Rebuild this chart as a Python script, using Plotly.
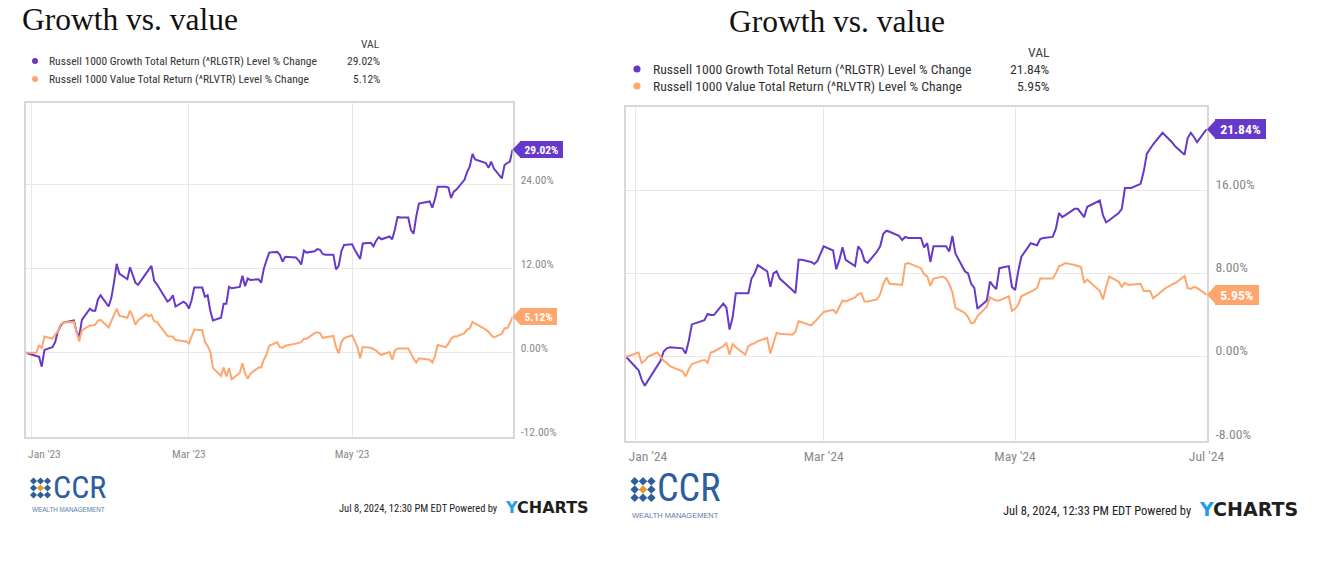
import plotly.graph_objects as go

# ---------------- data ----------------
dates_2023 = [
    "2022-12-30",
    "2023-01-03", "2023-01-04", "2023-01-05", "2023-01-06", "2023-01-09", "2023-01-10", "2023-01-11",
    "2023-01-12", "2023-01-13", "2023-01-17", "2023-01-18", "2023-01-19", "2023-01-20", "2023-01-23",
    "2023-01-24", "2023-01-25", "2023-01-26", "2023-01-27", "2023-01-30", "2023-01-31",
    "2023-02-01", "2023-02-02", "2023-02-03", "2023-02-06", "2023-02-07", "2023-02-08", "2023-02-09",
    "2023-02-10", "2023-02-13", "2023-02-14", "2023-02-15", "2023-02-16", "2023-02-17", "2023-02-21",
    "2023-02-22", "2023-02-23", "2023-02-24", "2023-02-27", "2023-02-28",
    "2023-03-01", "2023-03-02", "2023-03-03", "2023-03-06", "2023-03-07", "2023-03-08", "2023-03-09",
    "2023-03-10", "2023-03-13", "2023-03-14", "2023-03-15", "2023-03-16", "2023-03-17", "2023-03-20",
    "2023-03-21", "2023-03-22", "2023-03-23", "2023-03-24", "2023-03-27", "2023-03-28", "2023-03-29",
    "2023-03-30", "2023-03-31",
    "2023-04-03", "2023-04-04", "2023-04-05", "2023-04-06", "2023-04-10", "2023-04-11", "2023-04-12",
    "2023-04-13", "2023-04-14", "2023-04-17", "2023-04-18", "2023-04-19", "2023-04-20", "2023-04-21",
    "2023-04-24", "2023-04-25", "2023-04-26", "2023-04-27", "2023-04-28",
    "2023-05-01", "2023-05-02", "2023-05-03", "2023-05-04", "2023-05-05", "2023-05-08", "2023-05-09",
    "2023-05-10", "2023-05-11", "2023-05-12", "2023-05-15", "2023-05-16", "2023-05-17", "2023-05-18",
    "2023-05-19", "2023-05-22", "2023-05-23", "2023-05-24", "2023-05-25", "2023-05-26", "2023-05-30",
    "2023-05-31",
    "2023-06-01", "2023-06-02", "2023-06-05", "2023-06-06", "2023-06-07", "2023-06-08", "2023-06-09",
    "2023-06-12", "2023-06-13", "2023-06-14", "2023-06-15", "2023-06-16", "2023-06-20", "2023-06-21",
    "2023-06-22", "2023-06-23", "2023-06-26", "2023-06-27", "2023-06-28", "2023-06-29", "2023-06-30",
]
growth_2023 = [
    0.0,
    -0.5, -0.6, -2.0, 0.4, 0.8, 1.5, 3.0, 3.8, 4.3, 4.6, 3.0, 2.3, 4.7, 6.3, 6.0, 6.0, 7.6, 8.2, 6.6, 7.8,
    10.0, 12.7, 11.3, 10.5, 12.2, 11.0, 10.0, 9.7, 11.3, 11.8, 12.4, 10.3, 9.8, 7.3, 7.6, 8.2, 6.6, 7.3, 7.0,
    6.3, 7.5, 9.3, 9.3, 8.0, 8.2, 6.0, 4.6, 5.0, 7.0, 7.0, 9.4, 9.2, 9.4, 11.0, 9.5, 10.6, 10.4, 10.5, 10.0,
    12.0, 13.0, 14.3,
    14.4, 14.0, 13.0, 13.7, 13.6, 13.2, 12.6, 14.6, 14.3, 14.5, 14.8, 14.7, 14.1, 14.0, 14.0, 11.9, 12.4,
    14.5, 15.4,
    15.5, 14.7, 14.0, 13.4, 15.6, 15.7, 15.2, 16.0, 16.5, 16.2, 16.6, 16.2, 17.6, 19.4, 19.3, 19.3, 17.5,
    17.0, 19.5, 21.3, 21.6, 20.7,
    22.0, 23.7, 23.7, 23.6, 22.1, 23.0, 23.3, 24.7, 25.8, 26.6, 28.4, 27.6, 27.1, 26.4, 27.3, 26.3, 24.9,
    26.8, 27.1, 27.3, 29.02,
]
value_2023 = [
    0.0,
    0.0, 1.1, 0.6, 2.3, 2.0, 2.6, 3.0, 4.0, 4.3, 4.4, 3.0, 1.6, 3.2, 3.9, 3.9, 4.0, 4.6, 4.7, 3.6, 4.6,
    5.5, 6.3, 5.3, 5.0, 6.0, 5.2, 4.0, 4.6, 5.5, 5.2, 5.4, 4.5, 4.4, 2.4, 2.3, 2.3, 1.8, 1.7, 1.6,
    1.3, 2.3, 3.3, 3.2, 1.5, 1.0, 0.1, -2.2, -3.3, -2.1, -3.4, -2.2, -3.8, -2.9, -1.5, -3.0, -3.7, -3.0,
    -2.1, -2.1, -1.0, -0.3, 1.0,
    1.5, 0.8, 0.7, 1.0, 1.3, 1.4, 1.5, 2.0, 2.0, 2.8, 2.9, 2.8, 2.1, 2.2, 2.4, 0.8, -0.1, 1.5, 2.1,
    2.5, 1.6, 0.8, -0.8, 0.8, 0.7, 0.5, 0.3, -0.1, -0.3, 0.1, -1.0, 0.3, 0.6, 0.6, 0.6, -0.1, -0.9,
    -1.4, -0.8, -1.0, -1.4,
    -0.5, 1.1, 0.8, 1.3, 2.0, 2.3, 2.3, 2.8, 3.3, 3.5, 4.4, 4.2, 3.3, 3.0, 2.5, 2.2, 2.7, 3.5, 3.5,
    4.2, 5.12,
]

dates_2024 = [
    "2023-12-29",
    "2024-01-02", "2024-01-03", "2024-01-04", "2024-01-05", "2024-01-08", "2024-01-09", "2024-01-10",
    "2024-01-11", "2024-01-12", "2024-01-16", "2024-01-17", "2024-01-18", "2024-01-19", "2024-01-22",
    "2024-01-23", "2024-01-24", "2024-01-25", "2024-01-26", "2024-01-29", "2024-01-30", "2024-01-31",
    "2024-02-01", "2024-02-02", "2024-02-05", "2024-02-06", "2024-02-07", "2024-02-08", "2024-02-09",
    "2024-02-12", "2024-02-13", "2024-02-14", "2024-02-15", "2024-02-16", "2024-02-20", "2024-02-21",
    "2024-02-22", "2024-02-23", "2024-02-26", "2024-02-27", "2024-02-28", "2024-02-29",
    "2024-03-01", "2024-03-04", "2024-03-05", "2024-03-06", "2024-03-07", "2024-03-08", "2024-03-11",
    "2024-03-12", "2024-03-13", "2024-03-14", "2024-03-15", "2024-03-18", "2024-03-19", "2024-03-20",
    "2024-03-21", "2024-03-22", "2024-03-25", "2024-03-26", "2024-03-27", "2024-03-28",
    "2024-04-01", "2024-04-02", "2024-04-03", "2024-04-04", "2024-04-05", "2024-04-08", "2024-04-09",
    "2024-04-10", "2024-04-11", "2024-04-12", "2024-04-15", "2024-04-16", "2024-04-17", "2024-04-18",
    "2024-04-19", "2024-04-22", "2024-04-23", "2024-04-24", "2024-04-25", "2024-04-26", "2024-04-29",
    "2024-04-30",
    "2024-05-01", "2024-05-02", "2024-05-03", "2024-05-06", "2024-05-07", "2024-05-08", "2024-05-09",
    "2024-05-10", "2024-05-13", "2024-05-14", "2024-05-15", "2024-05-16", "2024-05-17", "2024-05-20",
    "2024-05-21", "2024-05-22", "2024-05-23", "2024-05-24", "2024-05-28", "2024-05-29", "2024-05-30",
    "2024-05-31",
    "2024-06-03", "2024-06-04", "2024-06-05", "2024-06-06", "2024-06-07", "2024-06-10", "2024-06-11",
    "2024-06-12", "2024-06-13", "2024-06-14", "2024-06-17", "2024-06-18", "2024-06-20", "2024-06-21",
    "2024-06-24", "2024-06-25", "2024-06-26", "2024-06-27", "2024-06-28",
    "2024-07-01",
]
growth_2024 = [
    0.0,
    -1.3, -2.2, -2.8, -2.3, -0.8, -0.4, 0.5, 0.8, 0.9, 0.8, 0.3, 1.5, 3.1, 3.4, 3.5, 4.1, 4.0, 4.0, 5.1,
    4.7, 2.6,
    3.8, 6.1, 6.1, 6.1, 7.5, 8.0, 8.8, 8.2, 6.7, 8.0, 8.2, 7.5, 6.4, 6.1, 9.3, 9.3, 9.1, 8.9, 9.2, 9.9,
    10.6, 10.2, 8.4, 9.3, 10.5, 9.3, 8.7, 10.6, 10.2, 9.2, 9.0, 10.1, 10.6, 11.8, 12.1, 12.0, 11.6, 11.2,
    11.5, 11.4,
    11.4, 10.5, 10.9, 9.1, 10.6, 10.6, 10.6, 10.1, 11.6, 9.9, 8.2, 8.0, 7.0, 6.6, 4.6, 5.4, 7.2, 6.8,
    6.5, 8.5, 8.7, 6.7,
    6.4, 8.2, 9.6, 10.9, 10.8, 10.7, 11.3, 11.4, 11.5, 12.3, 13.8, 13.4, 13.6, 14.2, 14.2, 13.8, 13.4,
    14.4, 15.0, 13.6, 12.9, 13.1,
    13.8, 14.2, 16.2, 16.2, 16.2, 16.6, 17.8, 19.5, 20.0, 20.4, 21.5, 21.2, 20.6, 20.2, 19.4, 21.0,
    21.5, 21.1, 20.6,
    21.84,
]
value_2024 = [
    0.0,
    0.4, -0.6, -0.4, 0.0, 0.4, 0.0, -0.4, -0.6, -0.9, -1.4, -1.9, -1.2, -0.7, -0.4, -0.3, -0.6, 0.4,
    0.5, 1.0, 1.3, 0.2,
    1.2, 0.9, 0.2, 1.0, 1.2, 1.3, 1.5, 1.8, 0.3, 1.4, 2.3, 2.2, 2.1, 2.4, 3.4, 3.3, 3.0, 3.3, 3.6, 4.0,
    4.3, 4.5, 4.2, 4.8, 5.4, 5.3, 5.7, 6.0, 6.1, 5.3, 5.3, 5.5, 6.0, 7.0, 7.6, 7.0, 6.9, 6.9, 8.9, 9.0,
    8.5, 7.9, 7.7, 6.8, 7.5, 7.7, 7.5, 7.0, 6.2, 4.7, 4.2, 3.8, 3.2, 3.3, 3.9, 4.8, 5.7, 5.5, 5.4, 5.4,
    5.8, 4.4,
    4.6, 5.0, 5.8, 6.2, 6.4, 6.6, 7.5, 7.5, 7.5, 8.0, 8.7, 8.8, 9.0, 8.8, 8.7, 8.6, 7.1, 7.4, 6.3, 5.5,
    6.7, 7.7,
    7.2, 6.7, 7.1, 6.9, 6.9, 7.0, 6.3, 6.3, 6.3, 5.6, 6.4, 6.6, 6.95, 7.05, 7.75, 6.6, 6.5, 6.7, 6.6,
    5.95,
]

series_names = [
    "Russell 1000 Growth Total Return (^RLGTR) Level % Change",
    "Russell 1000 Value Total Return (^RLVTR) Level % Change",
]
title_text = "Growth vs. value"
xgrid_2023 = ["2023-01-01", "2023-03-01", "2023-05-01"]
xticks_2023 = ["2023-01-06", "2023-03-01", "2023-05-01"]
xlabels_2023 = ["Jan '23", "Mar '23", "May '23"]
xgrid_2024 = ["2024-01-01", "2024-03-01", "2024-05-01", "2024-07-01"]
xticks_2024 = ["2024-01-05", "2024-03-01", "2024-05-01", "2024-07-01"]
xlabels_2024 = ["Jan '24", "Mar '24", "May '24", "Jul '24"]
yticks_2023 = [-12, 0, 12, 24]
yticks_2024 = [-8, 0, 8, 16]
stamp_2023 = "Jul 8, 2024, 12:30 PM EDT Powered by"
stamp_2024 = "Jul 8, 2024, 12:33 PM EDT Powered by"

assert len(dates_2023) == len(growth_2023) == len(value_2023)
assert len(dates_2024) == len(growth_2024) == len(value_2024)

# ---------------- style ----------------
W, H = 1344, 563
PURPLE = "#6739cb"
ORANGE = "#ffa66e"
GRID = "#e8e8e8"
BORDER = "#d8d8d8"
TICK = "#8a8a8a"
NARROW = "Liberation Sans Narrow, Arial Narrow, Roboto Condensed, Roboto, sans-serif"
SERIF = "Liberation Serif, DejaVu Serif, serif"
BLUE = "#2d5f9c"


def fx(p):
    return p / W


def fy(p):
    return 1 - p / H


panels = [
    dict(dates=dates_2023, g=growth_2023, v=value_2023, xd=(25.7, 512.6), yd=(102.7, 437.0),
         xr=["2022-12-30", "2023-06-30"], yr=[-12.04, 35.71], yt=yticks_2023,
         xg=xgrid_2023, xt=xticks_2023, xl=xlabels_2023, s=1.0, xstand=5, yshift=-5,
         title=(20, 20), leg_x=(35, 47, 382), leg_y=(44, 61, 79),
         logo=(40.5, 488), stamp=(500, 508), stamp_text=stamp_2023),
    dict(dates=dates_2024, g=growth_2024, v=value_2024, xd=(626.0, 1206.9), yd=(107.0, 440.7),
         xr=["2023-12-29", "2024-07-01 03:00"], yr=[-8.07, 23.98], yt=yticks_2024,
         xg=xgrid_2024, xt=xticks_2024, xl=xlabels_2024, s=1.19, xstand=2, yshift=-6,
         title=(727, 21), leg_x=(637, 651, 1052), leg_y=(52, 69, 86),
         logo=(643, 489.5), stamp=(1193, 510), stamp_text=stamp_2024),
]

fig = go.Figure()
shapes = []
annotations = []
layout = {}

for i, p in enumerate(panels):
    s = p["s"]
    sfx = "" if i == 0 else str(i + 1)
    xref, yref = "x" + sfx, "y" + sfx
    for vals, col in ((p["g"], PURPLE), (p["v"], ORANGE)):
        fig.add_trace(go.Scatter(x=p["dates"], y=vals, mode="lines", xaxis=xref, yaxis=yref,
                                 line=dict(color=col, width=2), showlegend=False, hoverinfo="skip"))
    layout["xaxis" + sfx] = dict(
        domain=[fx(p["xd"][0]), fx(p["xd"][1])], range=p["xr"], type="date", anchor=yref,
        tickvals=p["xt"], ticktext=p["xl"], showgrid=False,
        minor=dict(tickvals=p["xg"], showgrid=True, gridcolor=GRID, gridwidth=1, ticks=""),
        showline=True, linecolor=BORDER, linewidth=1.5, mirror=True, ticks="", zeroline=False,
        tickfont=dict(family=NARROW, size=11.5 * s, color=TICK), ticklabelstandoff=p["xstand"],
        fixedrange=True, automargin=False)
    layout["yaxis" + sfx] = dict(
        domain=[fy(p["yd"][1]), fy(p["yd"][0])], range=p["yr"], anchor=xref, side="right",
        tickvals=p["yt"], ticktext=[f"{t:.2f}%" for t in p["yt"]], showgrid=True, gridcolor=GRID,
        showline=True, linecolor=BORDER, linewidth=1.5, mirror=True, ticks="", zeroline=False,
        tickfont=dict(family=NARROW, size=11.5 * s, color=TICK), ticklabelstandoff=int(4 * s),
        ticklabelshift=p["yshift"], fixedrange=True, automargin=False)

    # end-value tabs: pointed tip (shape at plot's right edge, at the value's height) + box (annotation)
    for vals, col in ((p["g"], PURPLE), (p["v"], ORANGE)):
        txt = f"{vals[-1]:.2f}%"
        bw = s * (7 + 6 * len(txt))
        bh = s * 17
        tip = s * 7
        shapes.append(dict(type="path", xref="paper", yref=yref, xsizemode="pixel", ysizemode="pixel",
                           xanchor=fx(p["xd"][1]), yanchor=vals[-1],
                           path=f"M 0 0 L {tip + 1} {bh / 2} L {tip + 1} {-bh / 2} Z",
                           fillcolor=col, line=dict(width=0), layer="above"))
        annotations.append(dict(xref=xref, yref=yref, x=p["dates"][-1], y=vals[-1],
                                text=f"<b>{txt}</b>", showarrow=False, xanchor="left",
                                yanchor="middle", xshift=tip, width=bw, height=bh, align="center",
                                valign="middle", bgcolor=col, borderpad=0, borderwidth=0,
                                font=dict(family=NARROW, size=11.5 * s, color="white")))

    # title
    annotations.append(dict(xref="paper", yref="paper", x=fx(p["title"][0]), y=fy(p["title"][1]),
                            text=title_text, showarrow=False, xanchor="left", yanchor="middle",
                            font=dict(family=SERIF, size=31.5, color="#111")))

    # legend
    dx, tx, vx = p["leg_x"]
    hy, y1, y2 = p["leg_y"]
    annotations.append(dict(xref="paper", yref="paper", x=fx(vx), y=fy(hy), text="VAL",
                            showarrow=False, xanchor="right", yanchor="middle",
                            font=dict(family=NARROW, size=11.5 * s, color="#444")))
    for yy, name, vals, col in ((y1, series_names[0], p["g"], PURPLE), (y2, series_names[1], p["v"], ORANGE)):
        r = 3 * s
        shapes.append(dict(type="circle", xref="paper", yref="paper", xsizemode="pixel",
                           ysizemode="pixel", xanchor=fx(dx), yanchor=fy(yy),
                           x0=-r, x1=r, y0=-r, y1=r, fillcolor=col, line=dict(width=0)))
        annotations.append(dict(xref="paper", yref="paper", x=fx(tx), y=fy(yy), text=name,
                                showarrow=False, xanchor="left", yanchor="middle",
                                font=dict(family=NARROW, size=11.5 * s, color="#333")))
        annotations.append(dict(xref="paper", yref="paper", x=fx(vx), y=fy(yy), text=f"{vals[-1]:.2f}%",
                                showarrow=False, xanchor="right", yanchor="middle",
                                font=dict(family=NARROW, size=11.5 * s, color="#333")))

    # CCR logo
    cx, cy = p["logo"]
    d = 3.6 * s
    gsp = 7.0 * s
    for gx in (-1, 0, 1):
        for gy in (-1, 0, 1):
            col = "#e39a2d" if (gx == 0 and gy == 0) else BLUE
            ox, oy = gx * gsp, gy * gsp
            shapes.append(dict(type="path", xref="paper", yref="paper", xsizemode="pixel",
                               ysizemode="pixel", xanchor=fx(cx), yanchor=fy(cy),
                               path=f"M {ox - d} {oy} L {ox} {oy + d} L {ox + d} {oy} L {ox} {oy - d} Z",
                               fillcolor=col, line=dict(width=0)))
    annotations.append(dict(xref="paper", yref="paper", x=fx(cx + 10.5 * s), y=fy(cy - 1 * s), text="CCR",
                            showarrow=False, xanchor="left", yanchor="middle",
                            font=dict(family=NARROW, size=32 * s, color=BLUE)))
    annotations.append(dict(xref="paper", yref="paper", x=fx(cx - 11 * s), y=fy(cy + 21.5 * s),
                            text="WEALTH MANAGEMENT", showarrow=False, xanchor="left", yanchor="middle",
                            font=dict(family="Liberation Sans, Arial, sans-serif", size=6.3 * s,
                                      color="#5a7ea6")))

    # footer stamp + YCHARTS
    sx, sy = p["stamp"]
    annotations.append(dict(xref="paper", yref="paper", x=fx(sx), y=fy(sy), text=p["stamp_text"],
                            showarrow=False, xanchor="right", yanchor="middle",
                            font=dict(family=NARROW, size=10.5 * s, color="#222")))
    annotations.append(dict(xref="paper", yref="paper", x=fx(sx + 3 * s), y=fy(sy - 1),
                            text="<span style='color:#1e9de8'>Y</span>CHARTS", showarrow=False,
                            xanchor="left", yanchor="middle",
                            font=dict(family="DejaVu Sans, sans-serif", size=16 * s, color="#1f1f1f",
                                      weight="bold")))

fig.update_layout(
    width=W, height=H, margin=dict(l=0, r=0, t=0, b=0),
    paper_bgcolor="white", plot_bgcolor="white", showlegend=False, hovermode=False,
    shapes=shapes, annotations=annotations, **layout)

fig.write_html("out.html", config={"displayModeBar": False},
               post_script="document.body.style.margin='0';")
